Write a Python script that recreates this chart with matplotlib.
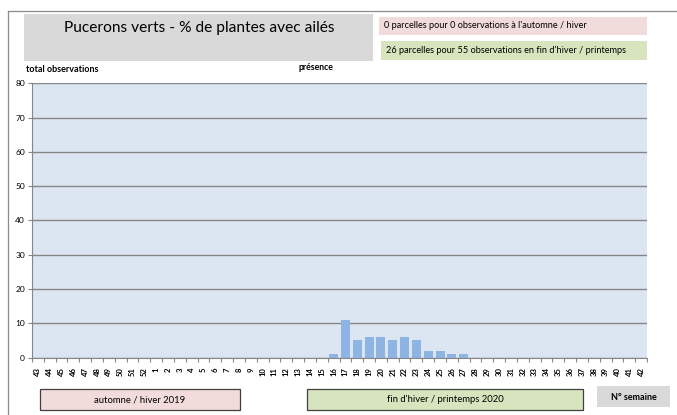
"""Pucerons verts - % de plantes avec ailés, par semaine."""

import matplotlib

matplotlib.use("Agg")
import matplotlib.pyplot as plt
import matplotlib.ticker as mticker
from matplotlib.patches import Rectangle

plt.rcParams["font.family"] = ["Lato", "DejaVu Sans"]

W, H = 677, 415

WEEKS = [str(w) for w in range(43, 53)] + [str(w) for w in range(1, 43)]
VALUES = [0] * 10 + [0] * 15 + [1, 11, 5, 6, 6, 5, 6, 5, 2, 2, 1, 1] + [0] * 15
Y_TICKS = [0, 10, 20, 30, 40, 50, 60, 70, 80]

TITLE = "Pucerons verts - % de plantes avec ailés"
NOTE_AUTUMN = "0 parcelles pour 0 observations à l'automne / hiver"
NOTE_SPRING = "26 parcelles pour 55 observations en fin d'hiver / printemps"
LABEL_AUTUMN = "automne / hiver 2019"
LABEL_SPRING = "fin d'hiver / printemps 2020"


def fx(px):
    return px / W


def fy(py):
    return 1 - py / H


def box(fig, x0, y0, x1, y1, color, edge=None, lw=0.0):
    fig.patches.append(Rectangle(
        (fx(x0), fy(y1)), fx(x1) - fx(x0), fy(y0) - fy(y1),
        transform=fig.transFigure, facecolor=color,
        edgecolor=edge if edge else "none", linewidth=lw, zorder=0,
    ))


def main():
    fig = plt.figure(figsize=(W / 100, H / 100), dpi=100)

    # outer frame of the chart area
    fig.add_artist(plt.Line2D([fx(8), fx(8)], [fy(11), fy(415)], transform=fig.transFigure,
                              color="#8c8c8c", linewidth=0.9))
    fig.add_artist(plt.Line2D([fx(8), fx(677)], [fy(11), fy(11)], transform=fig.transFigure,
                              color="#8c8c8c", linewidth=0.9))

    # header boxes
    box(fig, 24, 14, 373, 61, "#d9d9d9")
    fig.text(fx(199), fy(28), TITLE, ha="center", va="center", fontsize=11.2)
    box(fig, 379, 17, 647, 35, "#f2dcdb")
    fig.text(fx(384), fy(26), NOTE_AUTUMN, ha="left", va="center", fontsize=6.6)
    box(fig, 381, 41, 647, 60, "#d7e4bd")
    fig.text(fx(386), fy(50.5), NOTE_SPRING, ha="left", va="center", fontsize=6.6)

    fig.text(fx(26), fy(70), "total observations", ha="left", va="center",
             fontsize=6.5, fontweight="bold")
    fig.text(fx(333), fy(68), "présence", ha="right", va="center",
             fontsize=6.3, fontweight="bold")

    # footer boxes
    box(fig, 40, 389, 240, 410, "#f2dcdb", edge="#404040", lw=0.9)
    fig.text(fx(140), fy(399.5), LABEL_AUTUMN, ha="center", va="center", fontsize=6.8)
    box(fig, 307, 389, 583, 410, "#d7e4bd", edge="#404040", lw=0.9)
    fig.text(fx(445), fy(399.5), LABEL_SPRING, ha="center", va="center", fontsize=6.8)
    box(fig, 597, 386, 670, 407, "#d9d9d9")
    fig.text(fx(633.5), fy(397), "N° semaine", ha="center", va="center",
             fontsize=6.5, fontweight="bold")

    ax = fig.add_axes([fx(32), fy(357.5), fx(647) - fx(32), fy(83.3) - fy(357.5)])
    ax.set_facecolor("#dce6f2")
    x = list(range(len(WEEKS)))
    ax.bar(x, VALUES, width=0.76, color="#8db4e2", zorder=2)

    ax.set_xlim(-0.5, len(WEEKS) - 0.5)
    ax.set_ylim(0, 80)
    ax.set_yticks(Y_TICKS)
    ax.set_yticklabels([str(v) for v in Y_TICKS], fontsize=6)
    ax.set_xticks(x)
    ax.set_xticklabels(WEEKS, rotation=90, fontsize=5.5, fontweight="bold")
    ax.xaxis.set_minor_locator(mticker.FixedLocator([i - 0.5 for i in range(len(WEEKS) + 1)]))
    ax.tick_params(axis="x", which="major", length=0, pad=7)
    ax.tick_params(axis="x", which="minor", length=3, color="#868686", width=0.8)
    ax.tick_params(axis="y", length=3, color="#868686", width=0.8, pad=2)

    ax.grid(axis="y", color="#868686", linewidth=1.0, zorder=1)
    ax.set_axisbelow(True)
    for side in ("top", "right"):
        ax.spines[side].set_visible(False)
    for side in ("left", "bottom"):
        ax.spines[side].set_color("#868686")
        ax.spines[side].set_linewidth(0.8)

    fig.savefig("out.png", dpi=100)
    plt.close(fig)


if __name__ == "__main__":
    main()
